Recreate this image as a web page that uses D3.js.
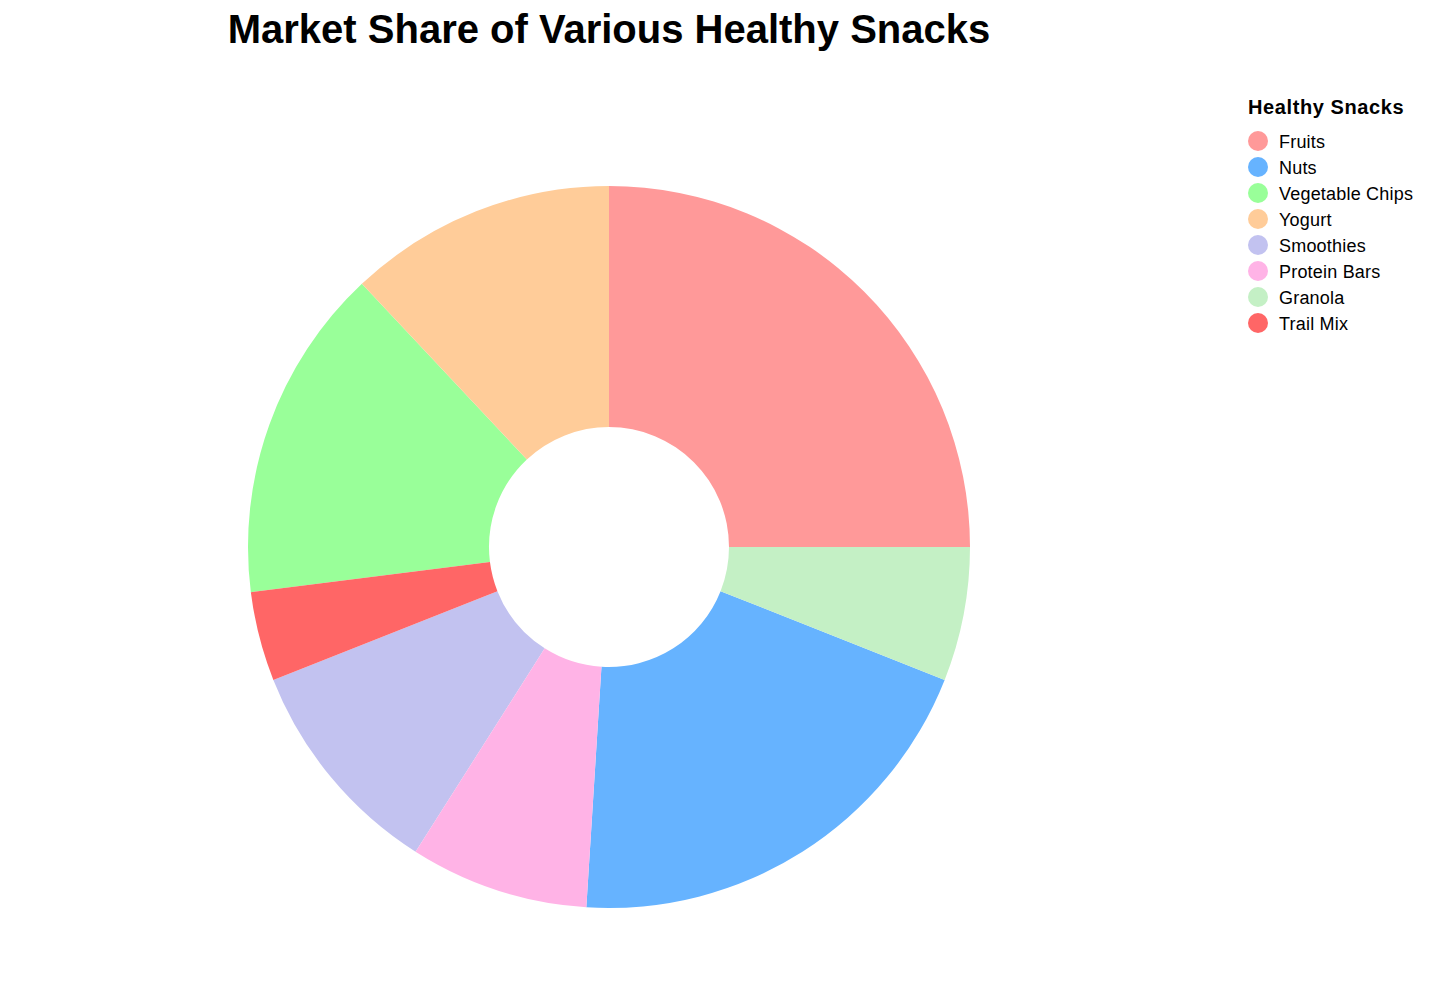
<!DOCTYPE html>
<html><head><meta charset="utf-8">
<script src="https://cdn.jsdelivr.net/npm/d3@7"></script>
<style>body{margin:0;background:#fff;}</style>
</head><body>
<svg id="c" width="1434" height="1008"></svg>
<script>
const categories = ["Fruits","Nuts","Vegetable Chips","Yogurt","Smoothies","Protein Bars","Granola","Trail Mix"];
const shares = [25,20,15,12,10,8,6,4];
const colors = ["#FF9999","#66B3FF","#99FF99","#FFCC99","#C2C2F0","#FFB3E6","#C4F0C5","#FF6666"];

const data = categories.map((c,i)=>({cat:c, value:shares[i], color:colors[i]}));
const svg = d3.select("#c");
const cx = 609, cy = 547, rOuter = 361, rInner = 120;

const pie = d3.pie().value(d=>d.value).sort((a,b)=>d3.ascending(a.cat,b.cat));
const arc = d3.arc().innerRadius(rInner).outerRadius(rOuter);
const g = svg.append("g").attr("transform",`translate(${cx},${cy})`);
g.selectAll("path").data(pie(data)).join("path")
  .attr("d",arc).attr("fill",d=>d.data.color);

svg.append("text").attr("x",609).attr("y",43).attr("text-anchor","middle")
  .style("font-family","'Liberation Sans', Arial, sans-serif")
  .style("font-weight","bold").style("font-size","40px").text("Market Share of Various Healthy Snacks");

const lg = svg.append("g").attr("transform","translate(1248,0)");
lg.append("text").attr("x",0).attr("y",114).style("font-family","'Liberation Sans', Arial, sans-serif")
  .style("font-weight","bold").style("font-size","20px").style("letter-spacing","0.6px").text("Healthy Snacks");
const items = lg.selectAll("g.it").data(data).join("g").attr("class","it")
  .attr("transform",(d,i)=>`translate(0,${141+i*26})`);
items.append("circle").attr("cx",10).attr("cy",0).attr("r",10).attr("fill",d=>d.color);
items.append("text").attr("x",31).attr("y",6.5).style("font-family","'Liberation Sans', Arial, sans-serif")
  .style("font-size","18px").style("letter-spacing","0.2px").text(d=>d.cat);
</script>
</body></html>
